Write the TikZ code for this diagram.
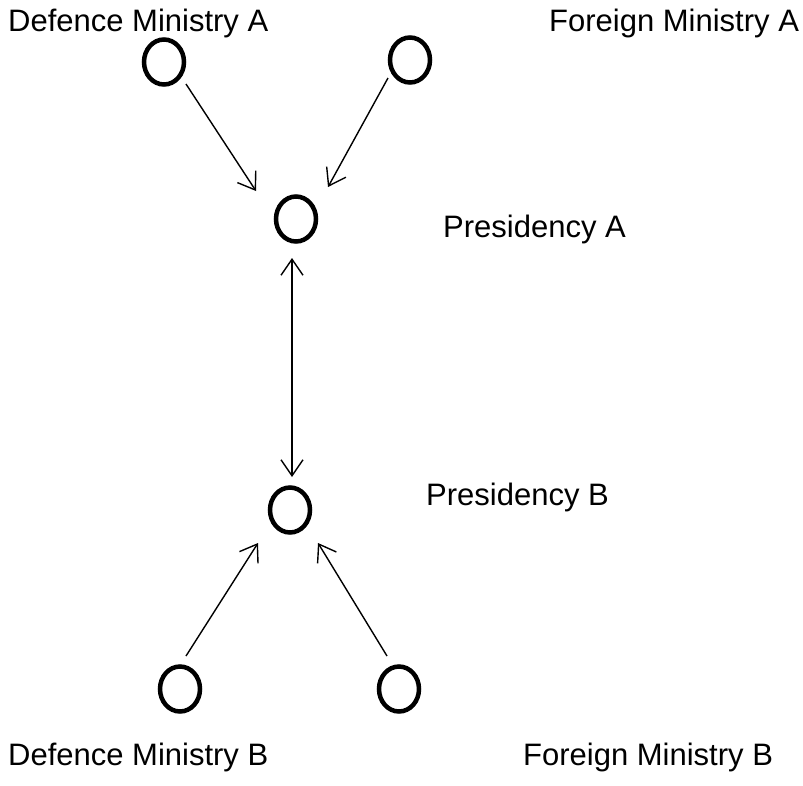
\documentclass[tikz,border=0pt]{standalone}
\usepackage{fontspec}
\setmainfont{Liberation Sans}
\usetikzlibrary{shapes.geometric,arrows.meta}
\begin{document}
\begin{tikzpicture}[x=1pt,y=-1pt,
  actor/.style={draw,ellipse,line width=4.5pt,minimum width=40pt,minimum height=45pt,inner sep=0pt},
  lbl/.style={anchor=base west,inner sep=0pt,font=\fontsize{31}{37}\selectfont},
  link/.style={line width=1.4pt,-{Straight Barb[length=16pt,width=22pt]}},
  dlink/.style={line width=1.4pt,{Straight Barb[length=16pt,width=22pt]}-{Straight Barb[length=16pt,width=22pt]}}]
\useasboundingbox (0,0) rectangle (803,785);
% actors
\node[actor] (dA) at (164,62) {};
\node[actor] (fA) at (410,60) {};
\node[actor] (pA) at (296,219) {};
\node[actor] (pB) at (290,510) {};
\node[actor] (dB) at (180,689) {};
\node[actor] (fB) at (399,689) {};
% labels
\node[lbl] (ldA) at (8,31) {Defence Ministry A};
\node[lbl] (lfA) at (549,31) {Foreign Ministry A};
\node[lbl] (lpA) at (443,237) {Presidency A};
\node[lbl] (lpB) at (426,505) {Presidency B};
\node[lbl] (ldB) at (8,765) {Defence Ministry B};
\node[lbl] (lfB) at (523,765) {Foreign Ministry B};
% connector ends
\coordinate (dAo) at (186,84);
\coordinate (pAl) at (256,191);
\coordinate (fAo) at (388,78);
\coordinate (pAr) at (328,187);
\coordinate (pAb) at (292,258);
\coordinate (pBt) at (292,477);
\coordinate (dBo) at (186,656);
\coordinate (pBl) at (258,543);
\coordinate (fBo) at (387,656);
\coordinate (pBr) at (318,543);
% connectors
\draw[link] (dAo) -- (pAl);
\draw[link] (fAo) -- (pAr);
\draw[dlink] (pAb) -- (pBt);
\draw[link] (dBo) -- (pBl);
\draw[link] (fBo) -- (pBr);
\end{tikzpicture}
\end{document}
